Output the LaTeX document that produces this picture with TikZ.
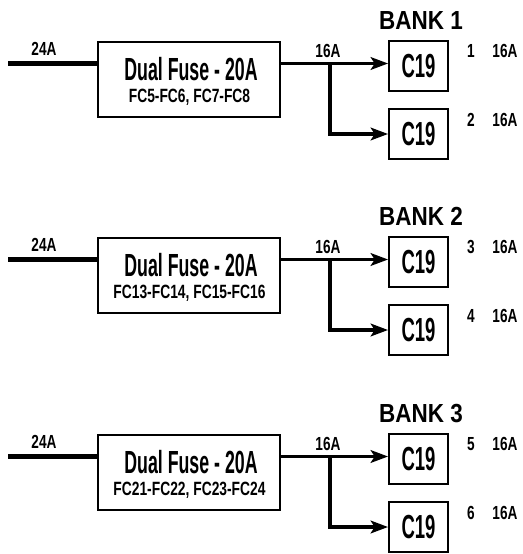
\documentclass[tikz,border=0pt]{standalone}
\usepackage{fontspec}
\setmainfont{Liberation Sans}
\newfontfamily\condfont[FakeStretch=0.555]{Liberation Sans}
\newfontfamily\midfont[FakeStretch=0.72]{Liberation Sans}
\newfontfamily\bankfont[FakeStretch=0.86]{Liberation Sans}
\usetikzlibrary{arrows.meta}
\tikzset{
  fusebox/.style={draw, line width=1.7pt, minimum width=137pt, minimum height=56pt, inner sep=0pt},
  outlet/.style={draw, line width=1.7pt, minimum width=44pt, minimum height=37.5pt, inner sep=0pt,
                 font=\condfont\bfseries\fontsize{25}{30}\selectfont},
  amp/.style={anchor=base, inner sep=0pt, font=\midfont\bfseries\fontsize{14.2}{17}\selectfont},
  feed/.style={line width=2.4pt, -{Stealth[length=13pt,width=9.5pt,inset=3pt]}},
}
\begin{document}
\begin{tikzpicture}[x=0.75pt, y=-0.75pt]
  \useasboundingbox (0,0) rectangle (522,554);
  \foreach \k/\oy/\fcs/\na/\nb in {1/0/{FC5-FC6, FC7-FC8}/1/2,
                                  2/196/{FC13-FC14, FC15-FC16}/3/4,
                                  3/393/{FC21-FC22, FC23-FC24}/5/6} {
    % fusible double
    \node[fusebox] (fuse\k) at (189, 79.5+\oy) {};
    \node[anchor=base, inner sep=0pt, font=\condfont\bfseries\fontsize{24}{28}\selectfont]
          (rating\k) at (191, 80+\oy) {Dual Fuse - 20A};
    \node[anchor=base, inner sep=0pt, font=\midfont\bfseries\fontsize{14.4}{17}\selectfont]
          (fc\k) at (189.5, 102+\oy) {\fcs};
    % prises C19
    \node[outlet] (ctop\k) at (418.5, 66+\oy) {C19};
    \node[outlet] (cbot\k) at (418.5, 134+\oy) {C19};
    \node[anchor=base, inner sep=0pt, font=\bankfont\bfseries\fontsize{19.6}{24}\selectfont]
          (bank\k) at (421, 29+\oy) {BANK \k};
    % arrivée 24A
    \coordinate (in\k) at (8, 63.5+\oy);
    \coordinate (split\k) at (330, 63.5+\oy);
    \draw[line width=3.8pt] (in\k) -- (in\k -| fuse\k.west);
    \node[amp] (inamp\k) at (44, 55+\oy) {24A};
    % départs 16A
    \draw[line width=2.4pt] (split\k -| fuse\k.east) -- (split\k);
    \draw[feed] (split\k) -- (split\k -| ctop\k.west);
    \draw[feed] (split\k) |- (cbot\k.west);
    \node[amp] (outamp\k) at (328, 57+\oy) {16A};
    \node[amp] (numa\k) at (471, 57+\oy) {\na};
    \node[amp] (ampa\k) at (505, 57+\oy) {16A};
    \node[amp] (numb\k) at (471, 126+\oy) {\nb};
    \node[amp] (ampb\k) at (505, 126+\oy) {16A};
  }
\end{tikzpicture}
\end{document}
